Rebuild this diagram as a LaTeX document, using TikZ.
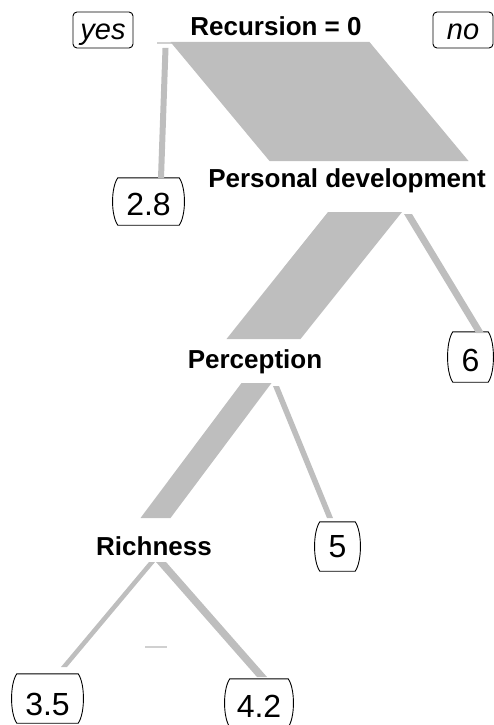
\documentclass[tikz,border=0pt]{standalone}
\usepackage{fontspec}
\setmainfont{Liberation Sans}
\usetikzlibrary{calc}

\definecolor{branchgray}{RGB}{190,190,190}
\definecolor{splitgray}{RGB}{208,208,208}

\tikzset{
  branch/.style={fill=branchgray, draw=none},
  splitline/.style={draw=splitgray, line width=1.5pt},
  splitlabel/.style={anchor=base, inner sep=0pt, font=\fontsize{26}{30}\selectfont\bfseries},
  leafnode/.style={anchor=base, inner sep=0pt, font=\fontsize{32}{36}\selectfont},
  boxline/.style={draw=black, line width=0.9pt},
  dirbox/.style={anchor=base, draw=black, line width=0.9pt, rounded corners=4pt,
                 inner sep=0pt, text height=28pt, text depth=8pt,
                 font=\fontsize{29}{32}\selectfont\itshape},
}

% outline of a leaf box: straight top and bottom, sides bulging outwards
\newcommand{\leafoutline}[1]{%
  \draw[boxline]
    ([xshift=4pt]#1.north west) -- ([xshift=-4pt]#1.north east)
    .. controls ([xshift=3pt,yshift=-10pt]#1.north east) and ([xshift=3pt,yshift=10pt]#1.south east) ..
    ([xshift=-4pt]#1.south east) -- ([xshift=4pt]#1.south west)
    .. controls ([xshift=-3pt,yshift=10pt]#1.south west) and ([xshift=-3pt,yshift=-10pt]#1.north west) ..
    cycle;}

% branch band between two named ends, horizontal ends of half width #3
\newcommand{\branchband}[3]{%
  \fill[branch] ($(#1)+(-#3,0)$) -- ($(#1)+(#3,0)$) -- ($(#2)+(#3,0)$) -- ($(#2)+(-#3,0)$) -- cycle;}

\begin{document}
\begin{tikzpicture}[x=1pt, y=-1pt]
  \useasboundingbox (0,0) rectangle (494,725);

  % split labels
  \node[splitlabel] (root) at (276,36) {Recursion = 0};
  \node[splitlabel] (pers) at (347,187) {Personal development};
  \node[splitlabel] (perc) at (255,368) {Perception};
  \node[splitlabel] (rich) at (154,555) {Richness};

  % direction labels
  \node[dirbox, minimum width=60pt] (yes) at (103,40) {yes};
  \node[dirbox, minimum width=60pt] (no) at (463,40) {no};

  % leaves
  \node[leafnode, minimum width=69pt, text height=37pt, text depth=10pt] (l28) at (148.5,215) {2.8};
  \node[leafnode, minimum width=43pt, text height=39pt, text depth=11pt] (l6) at (470.5,371) {6};
  \node[leafnode, minimum width=43pt, text height=35pt, text depth=14pt] (l5) at (337.5,557) {5};
  \node[leafnode, minimum width=69pt, text height=41pt, text depth=8pt] (l35) at (47.5,715) {3.5};
  \node[leafnode, minimum width=66pt, text height=38pt, text depth=10pt] (l42) at (259,717) {4.2};

  \leafoutline{l28}
  \leafoutline{l6}
  \leafoutline{l5}
  \leafoutline{l35}
  \leafoutline{l42}

  % branch ends
  \coordinate (rootA) at (165.5,48);  \coordinate (l28top) at (161,178);
  \coordinate (rootB) at (270,42);    \coordinate (persin) at (369,161);
  \coordinate (persA) at (365,212);   \coordinate (percin) at (263.5,339);
  \coordinate (persB) at (408,214);   \coordinate (l6top) at (480,333);
  \coordinate (percA) at (256.5,383); \coordinate (richin) at (155.5,518);
  \coordinate (percB) at (276,386);   \coordinate (l5top) at (330,518);
  \coordinate (richA) at (152,562);   \coordinate (l35top) at (64,667);
  \coordinate (richB) at (161,562);   \coordinate (l42top) at (262,677);

  % split rules
  \coordinate (rootsplitL) at (157,43); \coordinate (rootsplitR) at (367,43);
  \coordinate (richsplitL) at (145,647); \coordinate (richsplitR) at (167,647);
  \draw[splitline] (rootsplitL) -- (rootsplitR);
  \draw[splitline] (richsplitL) -- (richsplitR);

  % branches, width by share of cases
  \branchband{rootA}{l28top}{3}
  \branchband{rootB}{persin}{99.5}
  \branchband{persA}{percin}{37}
  \branchband{persB}{l6top}{4}
  \branchband{percA}{richin}{15}
  \branchband{percB}{l5top}{3}
  \branchband{richA}{l35top}{3}
  \branchband{richB}{l42top}{5}
\end{tikzpicture}
\end{document}
